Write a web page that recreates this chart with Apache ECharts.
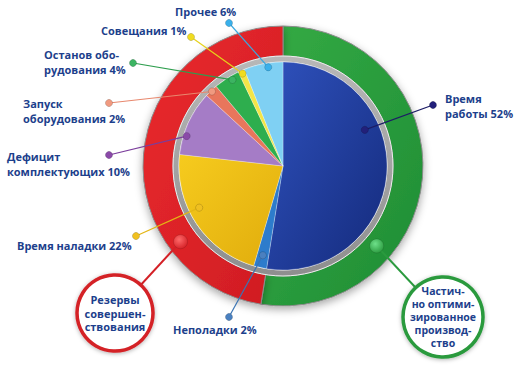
<!DOCTYPE html>
<html><head><meta charset="utf-8">
<script src="https://cdn.jsdelivr.net/npm/echarts@6/dist/echarts.min.js"></script>
<style>html,body{margin:0;padding:0;background:#fff}#c{width:524px;height:369px}</style>
</head><body><div id="c"></div>
<script>
// ---- data ----
const categories = ['Время\nработы', 'Неполадки', 'Время наладки', 'Дефицит\nкомплектующих', 'Запуск\nоборудования', 'Останов обо-\nрудования', 'Совещания', 'Прочее'];
const values = [52, 2, 22, 10, 2, 4, 1, 6];
const groups = ['Частич-\nно оптими-\nзированное\nпроизвод-\nство', 'Резервы\nсовершен-\nствования'];
const groupValues = [52, 47];

// ---- styles / layout ----
const sliceColors = [
  {type:'linear',x:0,y:0,x2:1,y2:1,colorStops:[{offset:0,color:'#2f52bd'},{offset:1,color:'#142a7c'}]},
  '#2d7ccc',
  {type:'linear',x:0,y:0,x2:1,y2:1,colorStops:[{offset:0,color:'#f6cb1e'},{offset:1,color:'#e0ac0c'}]},
  '#a57cc6', '#e8765c', '#2eae4e', '#f3e548', '#7fd0f3'
];
const lineColors = ['#1c1c66', '#3a74b4', '#e4b614', '#7b3d9c', '#e8886e', '#2e9e4e', '#e6d21a', '#3aa8e0'];
const dotColors  = ['#22207a', '#4a80c0', '#f0c020', '#8a4aa8', '#f09a80', '#3cb462', '#f0dc20', '#3ab0ea'];
const groupColors = [
  {type:'linear',x:0,y:0,x2:1,y2:1,colorStops:[{offset:0,color:'#34ab45'},{offset:1,color:'#1f8c34'}]},
  {type:'linear',x:0,y:0,x2:1,y2:1,colorStops:[{offset:0,color:'#ea2a2e'},{offset:1,color:'#cf1c22'}]}
];
const groupLine = ['#2a9a3e', '#d42026'];
// label text position (left x, middle y), end dot, anchor inside slice (angle fraction, radius fraction)
const labelPos = [[445,105.5],[173,329],[17,245],[7,163.5],[23,110.5],[44,61.5],[101,30],[175,11]];
const dotPos = [[433,105],[229,317],[136,236],[109,155],[109,103],[133,63],[191,37],[229,23]];
const anchor = [[0.35,0.86],[0.5,0.88],[0.59,0.9],[0.3,0.97],[0.5,0.99],[0.66,0.96],[0.5,0.97],[0.61,0.96]];
const groupCircle = [[443,317,40],[115,313,38]];
const groupAnchor = [[0.69,0.88],[0.26,0.91]];
const textColor = '#1d3f8c';
const FONT = 'bold 11px "Open Sans", "Noto Sans", sans-serif';

const chart = echarts.init(document.getElementById('c'), null, {renderer:'svg'});
const C = [283, 166];
chart.setOption({
  animation: false,
  series: [
    { type:'pie', center:C, radius:[110,140], startAngle:90, silent:true,
      label:{show:false}, labelLine:{show:false},
      itemStyle:{borderColor:'#8c8c8c', borderWidth:1, shadowBlur:8, shadowOffsetY:3, shadowColor:'rgba(0,0,0,0.35)'},
      data: groups.map((g,i)=>({name:g, value:groupValues[i], itemStyle:{color:groupColors[i]}})) },
    { type:'pie', center:C, radius:[104,110], silent:true,
      label:{show:false}, labelLine:{show:false},
      itemStyle:{color:{type:'linear',x:0,y:0,x2:0,y2:1,colorStops:[{offset:0,color:'#b8b8b8'},{offset:1,color:'#8e8e8e'}]}, borderColor:'#eeeeee', borderWidth:1},
      data:[{name:'ring', value:1}] },
    { type:'pie', center:C, radius:[0,104], startAngle:90, silent:true,
      label:{show:false}, labelLine:{show:false},
      itemStyle:{borderColor:'rgba(255,255,255,0.45)', borderWidth:0.6},
      data: categories.map((c,i)=>({name:c, value:values[i], itemStyle:{color:sliceColors[i]}})) }
  ]
});

function pointOn(si, i, af, rf) {
  const lay = chart.getModel().getSeriesByIndex(si).getData().getItemLayout(i);
  const a = lay.startAngle + (lay.endAngle - lay.startAngle) * af;
  const r = lay.r * rf;
  return [lay.cx + r * Math.cos(a), lay.cy + r * Math.sin(a)];
}

const els = [];
categories.forEach((c, i) => {
  const p = pointOn(2, i, anchor[i][0], anchor[i][1]);
  const d = dotPos[i];
  els.push({type:'line', z:10, shape:{x1:p[0],y1:p[1],x2:d[0],y2:d[1]}, style:{stroke:lineColors[i], lineWidth:1.2}});
  els.push({type:'circle', z:11, shape:{cx:p[0],cy:p[1],r:3.6}, style:{fill:dotColors[i], stroke:'rgba(0,0,0,0.25)', lineWidth:0.6}});
  els.push({type:'circle', z:11, shape:{cx:d[0],cy:d[1],r:3.6}, style:{fill:dotColors[i], stroke:'rgba(0,0,0,0.25)', lineWidth:0.6}});
  els.push({type:'text', z:12, x:labelPos[i][0], y:labelPos[i][1],
    style:{text: c + ' ' + values[i] + '%', font:FONT, fill:textColor, align:'left', verticalAlign:'middle', lineHeight:15}});
});
groups.forEach((g, i) => {
  const p = pointOn(0, i, groupAnchor[i][0], groupAnchor[i][1]);
  const gc = groupCircle[i];
  els.push({type:'line', z:10, shape:{x1:p[0],y1:p[1],x2:gc[0],y2:gc[1]}, style:{stroke:groupLine[i], lineWidth:2}});
  els.push({type:'circle', z:11, shape:{cx:p[0],cy:p[1],r:7},
    style:{fill:{type:'radial',x:0.4,y:0.35,r:0.7,colorStops:[{offset:0,color:i?'#ff6a6a':'#6ee08a'},{offset:1,color:groupLine[i]}]}, stroke:'rgba(0,0,0,0.2)', lineWidth:0.6}});
  els.push({type:'circle', z:11, shape:{cx:gc[0],cy:gc[1],r:gc[2]},
    style:{fill:'#ffffff', stroke:groupLine[i], lineWidth:3.5, shadowBlur:4, shadowColor:'rgba(0,0,0,0.3)', shadowOffsetY:1}});
  els.push({type:'text', z:12, x:gc[0], y:gc[1],
    style:{text:g, font: i ? 'bold 11px "Open Sans", sans-serif' : 'bold 10.5px "Open Sans", sans-serif', fill:textColor, align:'center', verticalAlign:'middle', lineHeight: i ? 13.5 : 13}});
});
chart.setOption({graphic: els});
</script>
</body></html>
